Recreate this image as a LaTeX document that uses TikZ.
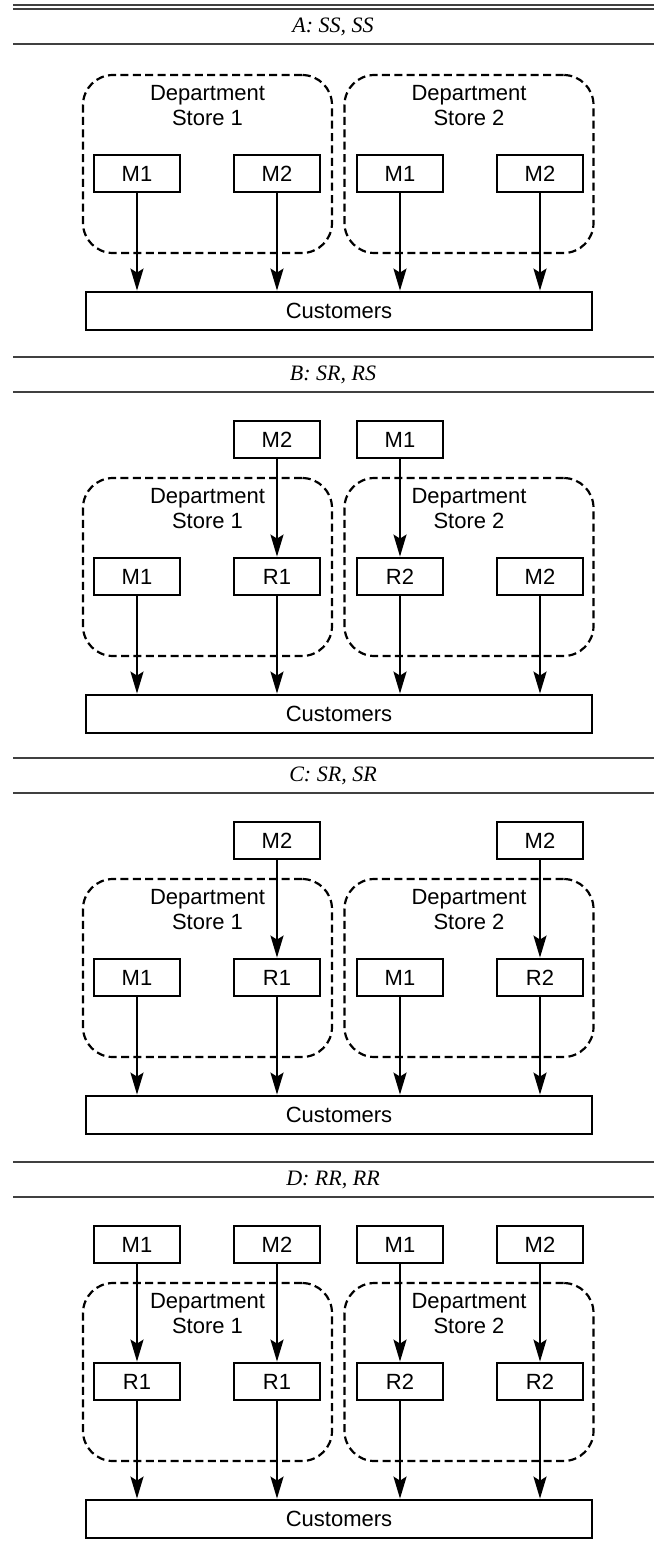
\documentclass[tikz,border=0pt]{standalone}
\usepackage{fontspec}
\setmainfont{Liberation Serif}
\setsansfont{Liberation Sans}
\usetikzlibrary{arrows.meta}

\tikzset{
  rule/.style={line width=1pt, black!75},
  title/.style={font=\rmfamily\itshape\fontsize{11}{12.5}\selectfont},
  box/.style={draw, line width=1.4pt, minimum width=43pt, minimum height=18.5pt, inner sep=0pt},
  cust/.style={box, minimum width=253pt, minimum height=19pt},
  store/.style={draw, dash pattern=on 4pt off 2.2pt, line width=1.1pt, rounded corners=15pt,
    minimum width=124.5pt, minimum height=89pt},
  arr/.style={line width=1.1pt, -{Stealth[length=11pt, width=6.5pt, inset=2pt]}},
}

\begin{document}
\begin{tikzpicture}[x=0.5pt, y=-0.5pt, font=\sffamily\fontsize{11}{12.5}\selectfont]
    \useasboundingbox (0,0) rectangle (654,1557);
    % rules and titles
    \foreach \y in {4.7,9,44,357,392,758,793,1162,1197}
    \draw[rule] (13,\y) -- (654,\y);
    \node[title] (tA) at (333,26.5) {A: SS, SS};
    \node[title] (tB) at (333,374.5) {B: SR, RS};
    \node[title] (tC) at (333,775.5) {C: SR, SR};
    \node[title] (tD) at (333,1179.5) {D: RR, RR};
    % stores, retailers and customers of each panel
    \foreach \p/\yy/\la/\lb/\lc/\ld in {A/-11/M1/M2/M1/M2, B/392/M1/R1/R2/M2, C/793/M1/R1/M1/R2, D/1197/R1/R1/R2/R2}{
    \begin{scope}[shift={(0,\yy)}]
    \node[store] (\p-st1) at (207.5,175) {};
    \node[store] (\p-st2) at (469,175) {};
    \node[align=center] (\p-lb1) at (207.5,117) {Department\\Store 1};
    \node[align=center] (\p-lb2) at (469,117) {Department\\Store 2};
    \node[box] (\p1) at (137,184.5) {\la};
    \node[box] (\p2) at (277,184.5) {\lb};
    \node[box] (\p3) at (400,184.5) {\lc};
    \node[box] (\p4) at (540,184.5) {\ld};
    \node[cust] (\p-cust) at (339,322) {Customers};
    \foreach \i in {1,...,4}
    \draw[arr] (\p\i.south) -- (\p\i.south |- \p-cust.north);
    \end{scope}
    }
    % manufacturers outside the stores
    \node[box] (B-t2) at (277,439.5) {M2};
    \node[box] (B-t3) at (400,439.5) {M1};
    \node[box] (C-t2) at (277,840.5) {M2};
    \node[box] (C-t4) at (540,840.5) {M2};
    \node[box] (D-t1) at (137,1244.5) {M1};
    \node[box] (D-t2) at (277,1244.5) {M2};
    \node[box] (D-t3) at (400,1244.5) {M1};
    \node[box] (D-t4) at (540,1244.5) {M2};
    \draw[arr] (B-t2) -- (B2);
    \draw[arr] (B-t3) -- (B3);
    \draw[arr] (C-t2) -- (C2);
    \draw[arr] (C-t4) -- (C4);
    \foreach \i in {1,...,4}
    \draw[arr] (D-t\i) -- (D\i);
\end{tikzpicture}
\end{document}
